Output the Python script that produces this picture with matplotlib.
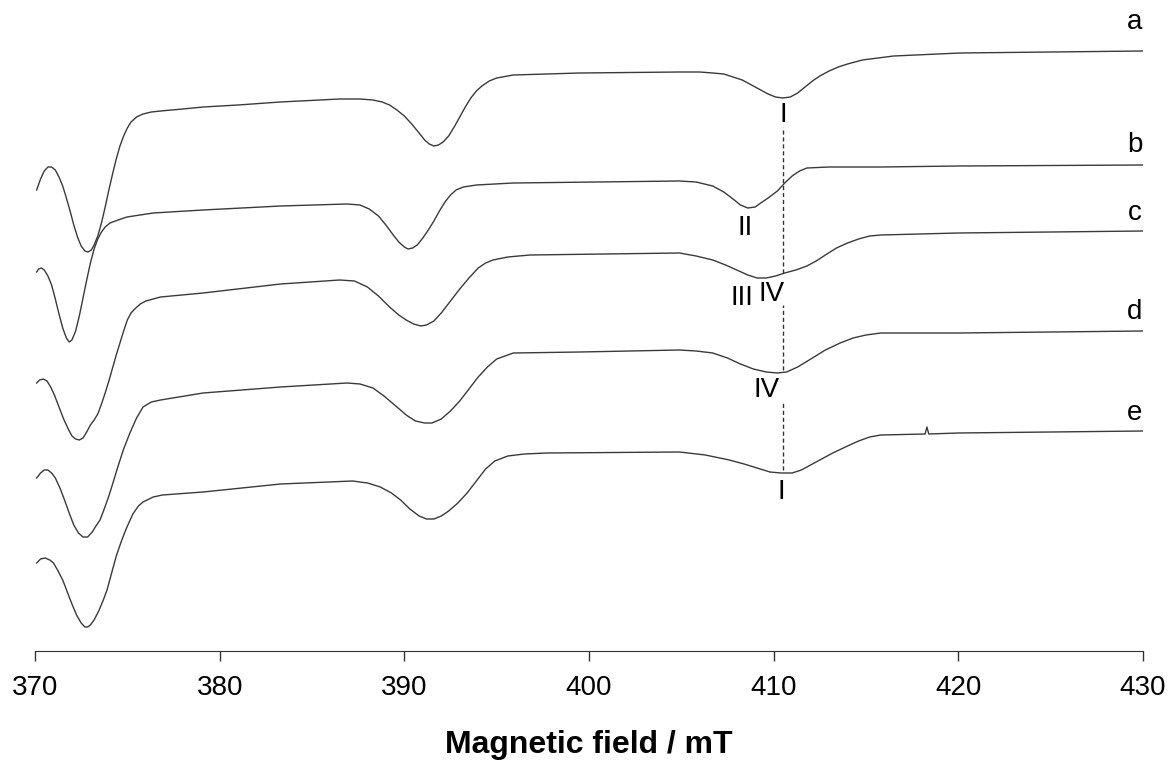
import matplotlib.pyplot as plt
import numpy as np

plt.rcParams['font.family'] = ['Liberation Sans', 'DejaVu Sans']

# spectra: field (mT) and signal (arb. units, offset stack)
a_B = [370.09, 370.3, 370.5, 370.7, 370.9, 371.1, 371.3, 371.5, 371.7, 371.9,
       372.1, 372.3, 372.5, 372.7, 372.87, 373.05, 373.2, 373.4, 373.6, 373.8,
       374.0, 374.2, 374.4, 374.6, 374.8, 375.0, 375.2, 375.5, 375.85, 376.3,
       376.8, 378.0, 379.1, 381.0, 383.27, 386.5, 387.6, 388.3, 388.8, 389.2,
       389.6, 390.0, 390.4, 390.8, 391.1, 391.35, 391.6, 391.85, 392.1, 392.4,
       392.7, 393.0, 393.3, 393.6, 393.9, 394.2, 394.6, 395.0, 395.9, 399.5,
       404.9, 406.0, 406.7, 407.3, 407.8, 408.3, 408.8, 409.3, 409.7, 410.1,
       410.5, 410.9, 411.3, 411.7, 412.1, 412.5, 413.0, 413.5, 414.0, 414.8,
       416.5, 420.1, 425.0, 430.0]
a_y = [461, 472, 480, 484, 484, 481, 474, 465, 453, 440,
       426, 414, 405, 400, 399, 401, 406, 415, 428, 444,
       461, 477, 492, 505, 515, 523, 529, 534, 537, 539,
       540, 542, 544, 546, 549, 552, 552, 551, 549, 546,
       541, 535, 527, 518, 511, 507, 505, 506, 509, 515,
       524, 534, 544, 553, 560, 565, 570, 573, 576, 578,
       579, 579, 578, 577, 574, 571, 566, 561, 557, 554,
       553, 554, 558, 564, 570, 575, 580, 584, 587, 591,
       595, 598, 599, 600]

b_B = [370.09, 370.2, 370.35, 370.5, 370.7, 370.9, 371.1, 371.3, 371.5, 371.7,
       371.85, 372.0, 372.2, 372.4, 372.6, 372.8, 373.0, 373.2, 373.4, 373.6,
       373.8, 374.06, 374.5, 374.98, 376.4, 379.1, 383.3, 386.9, 387.6, 388.1,
       388.6, 389.0, 389.4, 389.7, 390.0, 390.2, 390.45, 390.7, 391.0, 391.3,
       391.6, 391.9, 392.2, 392.5, 392.8, 393.2, 393.9, 395.9, 404.9, 405.8,
       406.7, 407.3, 407.8, 408.2, 408.6, 409.0, 409.3, 409.7, 410.2, 410.6,
       411.0, 411.4, 411.8, 413.0, 415.8, 420.0, 430.0]
b_y = [379, 382, 383, 381, 375, 366, 352, 337, 323, 313,
       309, 311, 320, 335, 353, 371, 388, 402, 412, 419,
       424, 428, 431, 434, 438, 441, 445, 447, 446, 442,
       435, 426, 416, 409, 404, 402, 403, 406, 413, 421,
       430, 440, 449, 456, 461, 464, 466, 468, 470, 469,
       465, 459, 452, 446, 443, 444, 448, 453, 460, 468,
       475, 480, 483, 484, 484, 485, 486]

c_B = [370.09, 370.25, 370.45, 370.65, 370.85, 371.05, 371.3, 371.55, 371.8, 372.0,
       372.2, 372.4, 372.6, 372.8, 373.0, 373.2, 373.4, 373.6, 373.8, 374.0,
       374.2, 374.4, 374.6, 374.8, 375.0, 375.2, 375.4, 375.7, 376.0, 376.8,
       379.1, 383.3, 386.5, 387.3, 388.0, 388.6, 389.2, 389.7, 390.1, 390.5,
       390.9, 391.2, 391.6, 392.0, 392.5, 393.0, 393.5, 394.0, 394.4, 394.8,
       395.6, 396.8, 404.9, 405.8, 406.7, 407.4, 408.0, 408.6, 409.1, 409.6,
       410.1, 410.6, 411.2, 411.8, 412.3, 412.8, 413.4, 414.0, 414.6, 415.2,
       415.8, 420.0, 430.0]
c_y = [268, 271, 272, 270, 264, 256, 244, 232, 222, 215,
       212, 211, 213, 219, 226, 231, 237, 247, 258, 270,
       283, 296, 308, 320, 331, 338, 342, 347, 350, 354,
       358, 367, 371, 370, 364, 355, 344, 336, 331, 327,
       325, 326, 330, 338, 350, 362, 373, 383, 388, 391,
       394, 396, 398, 395, 391, 386, 381, 376, 373, 373,
       375, 378, 381, 385, 390, 396, 403, 408, 412, 415,
       416, 418, 420]

d_B = [370.09, 370.3, 370.5, 370.7, 370.9, 371.1, 371.35, 371.6, 371.85, 372.1,
       372.35, 372.6, 372.85, 373.1, 373.3, 373.52, 373.75, 374.0, 374.22, 374.5,
       374.8, 375.14, 375.5, 375.85, 376.3, 376.8, 379.1, 383.3, 386.9, 387.6,
       388.3, 388.9, 389.6, 390.1, 390.6, 391.1, 391.5, 392.0, 392.5, 393.0,
       393.5, 394.0, 394.5, 395.0, 395.9, 399.5, 404.9, 405.8, 406.7, 407.5,
       408.2, 408.9, 409.6, 410.2, 410.7, 411.3, 412.1, 412.8, 413.6, 414.3,
       415.0, 415.8, 420.0, 430.0]
d_y = [173, 178, 181, 181, 178, 173, 163, 151, 138, 126,
       118, 114, 114, 119, 125, 131, 142, 155, 168, 185,
       202, 218, 233, 244, 249, 251, 258, 264, 268, 267,
       263, 255, 244, 236, 230, 228, 228, 232, 240, 250,
       262, 274, 284, 292, 298, 299, 301, 300, 298, 293,
       287, 282, 279, 278, 279, 284, 293, 301, 308, 313,
       316, 318, 318, 320]

e_B = [370.09, 370.3, 370.55, 370.8, 371.0, 371.25, 371.5, 371.75, 372.0, 372.25,
       372.5, 372.7, 372.85, 373.0, 373.2, 373.45, 373.7, 373.9, 374.15, 374.4,
       374.7, 374.98, 375.3, 375.6, 375.85, 376.4, 376.9, 379.1, 383.3, 387.2,
       388.0, 388.7, 389.3, 389.8, 390.3, 390.8, 391.2, 391.6, 392.0, 392.4,
       392.9, 393.4, 393.9, 394.4, 394.9, 395.6, 396.5, 397.7, 404.9, 406.3,
       407.6, 408.4, 409.1, 409.8, 410.4, 411.0, 411.5, 412.0, 412.5, 413.2,
       414.0, 414.6, 415.2, 415.8, 418.2, 418.3, 418.4, 420.0, 430.0]
e_y = [88, 92, 93, 91, 88, 80, 71, 59, 47, 36,
       28, 24, 24, 26, 31, 40, 51, 61, 78, 95,
       111, 124, 137, 145, 149, 154, 156, 159, 167, 170,
       168, 164, 158, 151, 142, 135, 132, 132, 135, 140,
       148, 158, 170, 182, 190, 195, 197, 198, 199, 196,
       191, 187, 183, 179, 178, 178, 181, 186, 191, 198,
       205, 210, 214, 216, 217, 224, 217, 218, 220]

spectra = [(a_B, a_y), (b_B, b_y), (c_B, c_y), (d_B, d_y), (e_B, e_y)]
names = ['a', 'b', 'c', 'd', 'e']
name_y = [629, 506, 438, 339, 238]

peak_labels = ['I', 'II', 'III', 'IV', 'IV', 'I']
peak_B = [410.5, 408.45, 408.28, 409.91, 409.64, 410.40]
peak_y = [536, 423, 353, 357, 261, 159]

fig = plt.figure(figsize=(11.73, 7.67), dpi=100)
ax = fig.add_axes([35 / 1173, 116 / 767, 1108 / 1173, 651 / 767])

for B, y in spectra:
    ax.plot(B, y, color='#3a3a3a', lw=1.0)

# dashed guide at ~410.5 mT, broken where the labels sit
ax.vlines([410.5, 410.5, 410.5], [378, 281, 181], [524, 346, 248],
          colors='#333333', linestyles=(0, (3, 2)), lw=1.0)

for s, y in zip(names, name_y):
    ax.text(429.57, y, s, fontsize=20, ha='center', va='center')

for s, B, y in zip(peak_labels, peak_B, peak_y):
    ax.text(B, y, s, fontsize=20, ha='center', va='center')

ax.set_xlim(370, 430)
ax.set_ylim(0, 651)
ax.set_xticks(np.arange(370, 431, 10))
ax.set_yticks([])
for side in ['left', 'right', 'top']:
    ax.spines[side].set_visible(False)
ax.spines['bottom'].set_color('#333333')
ax.tick_params(axis='x', direction='out', length=7, width=1, colors='#333333',
               labelcolor='black', labelsize=20, pad=10)
ax.set_xlabel('Magnetic field / mT', fontsize=23, fontweight='bold', labelpad=21)

fig.savefig('out.png', dpi=100)
